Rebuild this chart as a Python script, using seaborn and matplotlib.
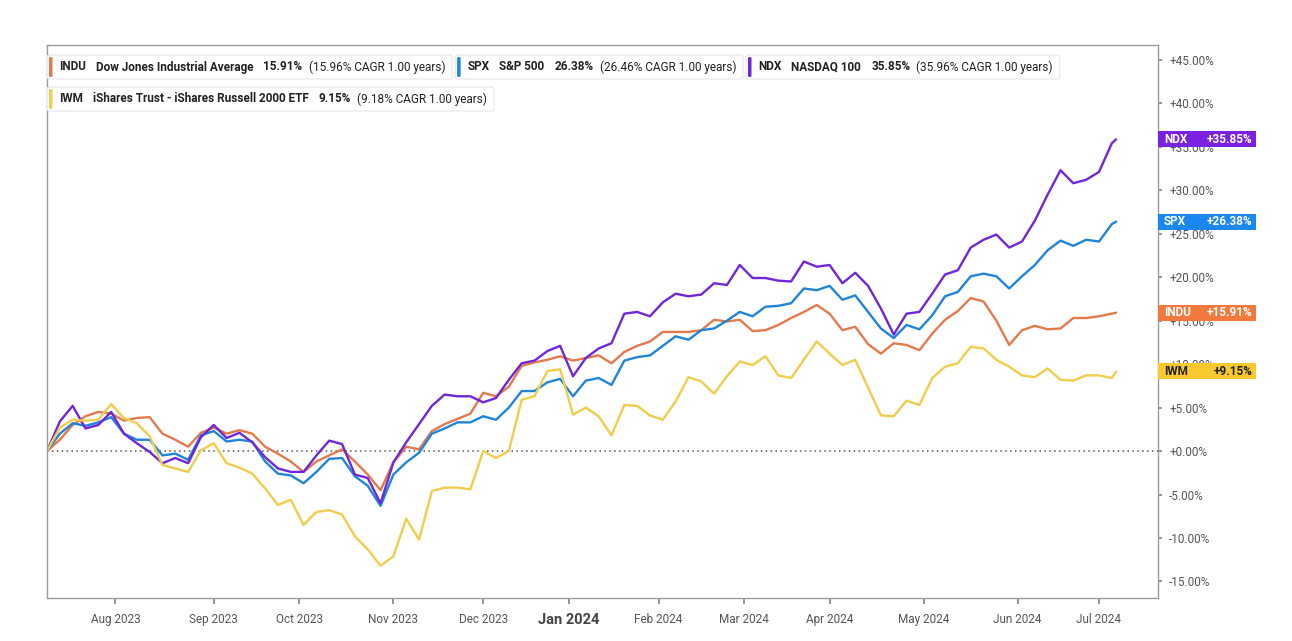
import numpy as np
import pandas as pd
import matplotlib
matplotlib.use("Agg")
import matplotlib.pyplot as plt
import seaborn as sns
from matplotlib.patches import FancyBboxPatch, Rectangle

# ---------------- data ----------------
tickers = ["INDU", "SPX", "NDX", "IWM"]
names = ["Dow Jones Industrial Average", "S&P 500", "NASDAQ 100",
         "iShares Trust - iShares Russell 2000 ETF"]
total_returns = ["15.91%", "26.38%", "35.85%", "9.15%"]
cagr_texts = ["(15.96% CAGR 1.00 years)", "(26.46% CAGR 1.00 years)",
              "(35.96% CAGR 1.00 years)", "(9.18% CAGR 1.00 years)"]
end_labels = ["+15.91%", "+26.38%", "+35.85%", "+9.15%"]

start_date = "2023-07-10"
end_date = "2024-07-08"
market_holidays = ["2023-09-04", "2023-11-23", "2023-12-25", "2024-01-01",
                   "2024-01-15", "2024-02-19", "2024-03-29", "2024-05-27",
                   "2024-06-19", "2024-07-04"]
month_labels = ["Aug 2023", "Sep 2023", "Oct 2023", "Nov 2023", "Dec 2023",
                "Jan 2024", "Feb 2024", "Mar 2024", "Apr 2024", "May 2024",
                "Jun 2024", "Jul 2024"]
month_starts = ["2023-08-01", "2023-09-01", "2023-10-01", "2023-11-01",
                "2023-12-01", "2024-01-01", "2024-02-01", "2024-03-01",
                "2024-04-01", "2024-05-01", "2024-06-01", "2024-07-01"]

# sampled every 3rd trading day (plus last day); % performance
indu = [0, 1.3, 3.0, 4.0, 4.5, 4.3, 3.5, 3.8, 3.9, 2.0, 1.3, 0.5, 2.1, 2.7, 2.0,
        2.4, 2.0, 0.5, -0.3, -1.2, -2.4, -1.2, -0.5, 0.2, -1.2, -2.7, -4.5, -1.3,
        0.5, 0.2, 2.3, 3.1, 3.7, 4.3, 6.7, 6.3, 7.4, 9.8, 10.2, 10.5, 10.9, 10.4,
        10.7, 11.0, 10.1, 11.4, 12.1, 12.6, 13.7, 13.7, 13.7, 13.9, 15.1, 14.9,
        15.1, 13.8, 13.9, 14.5, 15.3, 16.0, 16.8, 15.8, 13.9, 14.3, 12.3, 11.2,
        12.4, 12.2, 11.6, 13.5, 15.1, 16.1, 17.6, 17.2, 15.0, 12.2, 13.9, 14.4,
        14.0, 14.1, 15.3, 15.3, 15.5, 15.8, 15.91]
spx = [0, 2.0, 3.2, 2.9, 3.3, 3.9, 2.0, 1.3, 1.3, -0.5, -0.3, -1.0, 1.8, 2.3, 1.1,
       1.3, 1.1, -1.2, -2.6, -2.8, -3.7, -2.4, -0.9, -0.8, -2.9, -4.0, -6.3, -2.7,
       -1.3, -0.2, 2.0, 2.6, 3.3, 3.3, 4.0, 3.6, 5.0, 6.9, 6.9, 7.9, 8.3, 6.3,
       8.1, 8.4, 7.6, 10.4, 10.8, 11.0, 12.1, 13.2, 12.8, 13.9, 14.1, 15.0, 16.0,
       15.5, 16.6, 16.7, 17.0, 18.7, 18.5, 19.0, 17.4, 17.9, 16.0, 14.1, 13.0,
       14.5, 14.0, 15.6, 17.8, 18.3, 20.1, 20.4, 20.1, 18.7, 20.1, 21.4, 23.1,
       24.2, 23.6, 24.3, 24.1, 26.1, 26.38]
ndx = [0, 3.4, 5.2, 2.6, 3.0, 4.5, 2.0, 0.9, -0.1, -1.4, -0.8, -1.4, 1.6, 3.0, 1.5,
       2.1, 1.0, -0.7, -2.0, -2.4, -2.4, -0.5, 1.2, 0.8, -2.7, -3.1, -6.0, -1.3,
       1.0, 3.1, 5.2, 6.5, 6.3, 6.3, 5.6, 6.1, 8.2, 10.1, 10.4, 11.5, 12.1, 8.6,
       10.7, 11.8, 12.4, 15.8, 16.0, 15.5, 17.1, 18.1, 17.8, 18.0, 19.3, 19.1,
       21.4, 19.9, 19.9, 19.6, 19.5, 21.8, 21.2, 21.4, 19.3, 20.5, 19.0, 16.4,
       13.4, 15.8, 16.0, 18.1, 20.3, 20.8, 23.4, 24.3, 24.9, 23.4, 24.1, 26.5,
       29.5, 32.3, 30.8, 31.2, 32.1, 35.4, 35.85]
iwm = [0, 2.7, 3.6, 3.5, 3.6, 5.4, 3.8, 3.2, 1.7, -1.6, -2.0, -2.4, 0.1, 0.9, -1.4,
       -1.9, -2.6, -4.3, -6.2, -5.6, -8.5, -7.0, -6.8, -7.3, -9.8, -11.3, -13.2,
       -12.1, -7.8, -10.2, -4.6, -4.2, -4.2, -4.4, 0.0, -0.8, 0.0, 5.9, 6.3, 9.2,
       9.4, 4.2, 5.0, 4.0, 1.8, 5.3, 5.2, 4.1, 3.6, 5.7, 8.5, 8.0, 6.6, 8.6, 10.3,
       9.9, 10.9, 8.7, 8.4, 10.5, 12.6, 11.2, 9.9, 10.5, 7.3, 4.1, 4.0, 5.8, 5.3,
       8.4, 9.7, 10.1, 12.0, 11.8, 10.5, 9.7, 8.7, 8.5, 9.5, 8.2, 8.1, 8.7, 8.7,
       8.4, 9.15]
series = {"INDU": indu, "SPX": spx, "NDX": ndx, "IWM": iwm}

line_colors = {"INDU": "#E27A4E", "SPX": "#1F84DA", "NDX": "#7027D8", "IWM": "#F0CD4C"}
box_colors = {"INDU": "#F2793D", "SPX": "#1B87F0", "NDX": "#7B22E0", "IWM": "#F7C92E"}
box_text_colors = {"INDU": "white", "SPX": "white", "NDX": "white", "IWM": "#222222"}

# ---------------- trading-day axis ----------------
days = pd.bdate_range(start_date, end_date)
days = days[~days.isin(pd.to_datetime(market_holidays))]
sample_pos = list(range(0, len(days) - 1, 3)) + [len(days) - 1]

rows = []
for t in tickers:
    for p, v in zip(sample_pos, series[t]):
        rows.append({"pos": p, "date": days[p], "value": v, "ticker": t})
df = pd.DataFrame(rows)

month_pos = [int(np.searchsorted(days.values, np.datetime64(m))) for m in month_starts]

# ---------------- figure ----------------
sns.set_theme(style="white")
plt.rcParams["font.family"] = ["Roboto", "DejaVu Sans"]

W, H = 1292, 641
fig = plt.figure(figsize=(W / 100, H / 100), dpi=100)
fig.patch.set_facecolor("white")
L, R, T, B = 47, 1158, 45, 598
ax = fig.add_axes([L / W, 1 - B / H, (R - L) / W, (B - T) / H])

sns.lineplot(data=df, x="pos", y="value", hue="ticker", hue_order=tickers,
             palette=line_colors, linewidth=1.7, legend=False, sort=False,
             errorbar=None, ax=ax)

ax.axhline(0, color="#555555", lw=1.1, ls=(0, (1, 2.2)), zorder=0)

ax.set_xlim(0, 259.8)
ax.set_ylim(-16.9, 46.7)
yt = np.arange(-15, 46, 5)
ax.set_yticks(yt)
ax.set_yticklabels([f"{v:+.2f}%" for v in yt])
ax.yaxis.tick_right()
ax.tick_params(axis="y", labelsize=8.5, labelcolor="#555555", length=3,
               color="#888888", pad=5, right=True, left=False)
ax.set_xticks(month_pos)
ax.set_xticklabels(month_labels)
ax.tick_params(axis="x", labelsize=8.5, labelcolor="#555555", length=4,
               color="#888888", pad=7, bottom=True)
for lab in ax.get_xticklabels():
    if lab.get_text() == "Jan 2024":
        lab.set_fontsize(10.5)
        lab.set_fontweight("bold")
        lab.set_color("#444444")
ax.set_xlabel("")
ax.set_ylabel("")
for s in ax.spines.values():
    s.set_color("#9a9a9a")
    s.set_linewidth(1.0)
ax.grid(False)

renderer = fig.canvas.get_renderer()


def px(x, y):
    return x / W, 1 - y / H


def legend_item(x0, yc, t):
    i = tickers.index(t)
    fs = 8.5
    cur = x0 + 12
    ends = []
    pieces = [(t, "bold", 10), (names[i], "bold", 10), (total_returns[i], "bold", 6),
              (cagr_texts[i], "normal", 0)]
    for txt, wt, gap in pieces:
        tx = fig.text(*px(cur, yc), txt, fontsize=fs, fontweight=wt, color="#222222",
                      ha="left", va="center", zorder=5)
        bb = tx.get_window_extent(renderer)
        cur = cur + bb.width + gap
    x1 = cur + 7
    box = FancyBboxPatch(px(x0, yc + 12), (x1 - x0) / W, 24 / H,
                         boxstyle="round,pad=0,rounding_size=0.003",
                         transform=fig.transFigure, fc="white", ec="#e6e6e6",
                         lw=0.8, zorder=4)
    fig.patches.append(box)
    bar = FancyBboxPatch(px(x0 + 2, yc + 10), 3.5 / W, 20 / H,
                         boxstyle="round,pad=0,rounding_size=0.0015",
                         transform=fig.transFigure, fc=line_colors[t], ec="none",
                         zorder=6)
    fig.patches.append(bar)
    return x1


xe = legend_item(47, 67, "INDU")
xe = legend_item(xe + 3, 67, "SPX")
xe = legend_item(xe + 3, 67, "NDX")
legend_item(47, 99, "IWM")

# end-value labels on the right axis
for i, t in enumerate(tickers):
    yd = ax.transData.transform((0, series[t][-1]))[1]
    ypx = H - yd
    rect = Rectangle(px(1158, ypx + 8), 98 / W, 16 / H, transform=fig.transFigure,
                     fc=box_colors[t], ec="none", zorder=8)
    fig.patches.append(rect)
    fig.text(*px(1164, ypx), t, fontsize=8.5, fontweight="bold",
             color=box_text_colors[t], ha="left", va="center", zorder=9)
    fig.text(*px(1252, ypx), end_labels[i], fontsize=8.5, fontweight="bold",
             color=box_text_colors[t], ha="right", va="center", zorder=9)

fig.savefig("out.png", dpi=100, facecolor="white")
